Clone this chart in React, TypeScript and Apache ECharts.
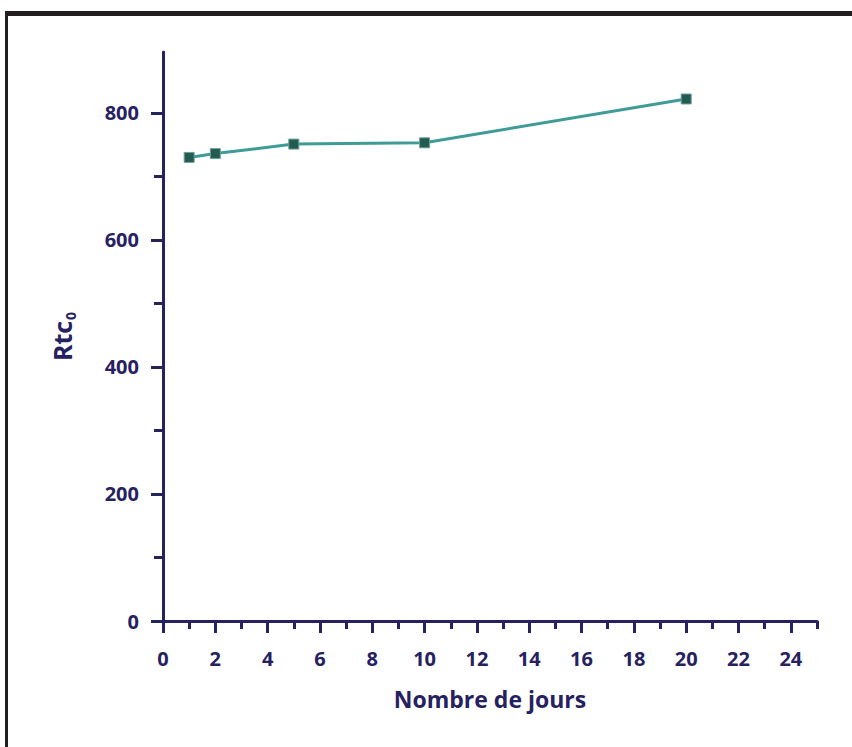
import React, { useEffect, useRef } from "react";
import * as echarts from "echarts";

const days = [1, 2, 5, 10, 20];
const rtc0 = [730, 736, 751, 753, 822];
const xMajorTicks = [0, 2, 4, 6, 8, 10, 12, 14, 16, 18, 20, 22, 24];
const xMinorTicks = [1, 3, 5, 7, 9, 11, 13, 15, 17, 19, 21, 23, 25];
const yMajorTicks = [0, 200, 400, 600, 800];
const yMinorTicks = [100, 300, 500, 700];

const NAVY = "#26215f";
const FONT = "Open Sans";

export default function App() {
  const ref = useRef<HTMLDivElement>(null);
  useEffect(() => {
    document.body.style.margin = "0";
    const chart = echarts.init(ref.current!, null, { renderer: "svg" });
    const axisLine = { show: true, lineStyle: { color: NAVY, width: 3 } };
    const gridRect = { left: 163, top: 52, width: 654, height: 569 };
    chart.setOption({
      animation: false,
      backgroundColor: "#ffffff",
      grid: [
        { ...gridRect, containLabel: false },
        { ...gridRect, containLabel: false },
      ],
      xAxis: [
        {
          type: "value",
          gridIndex: 0,
          min: 0,
          max: 25,
          axisLine,
          axisTick: {
            show: true,
            inside: false,
            length: 12,
            customValues: xMajorTicks,
            lineStyle: { color: NAVY, width: 3 },
          },
          axisLabel: {
            customValues: xMajorTicks,
            margin: 27,
            color: NAVY,
            fontFamily: FONT,
            fontWeight: "bold",
            fontSize: 20,
          },
          splitLine: { show: false },
          name: "Nombre de jours",
          nameLocation: "middle",
          nameGap: 66,
          nameTextStyle: {
            color: NAVY,
            fontFamily: FONT,
            fontWeight: "bold",
            fontSize: 23,
          },
        },
        {
          type: "value",
          gridIndex: 1,
          min: 0,
          max: 25,
          axisLine: { show: false },
          axisTick: {
            show: true,
            length: 8,
            customValues: xMinorTicks,
            lineStyle: { color: NAVY, width: 3 },
          },
          axisLabel: { show: false },
          splitLine: { show: false },
        },
      ],
      yAxis: [
        {
          type: "value",
          gridIndex: 0,
          min: 0,
          max: 896,
          axisLine,
          axisTick: {
            show: true,
            length: 12,
            customValues: yMajorTicks,
            lineStyle: { color: NAVY, width: 3 },
          },
          axisLabel: {
            customValues: yMajorTicks,
            margin: 24,
            color: NAVY,
            fontFamily: FONT,
            fontWeight: "bold",
            fontSize: 20,
          },
          splitLine: { show: false },
          name: "{a|Rtc}{b|0}",
          nameLocation: "middle",
          nameGap: 86,
          nameRotate: 90,
          nameTextStyle: {
            rich: {
              a: {
                color: NAVY,
                fontFamily: FONT,
                fontWeight: "bold",
                fontSize: 25,
                lineHeight: 30,
              },
              b: {
                color: NAVY,
                fontFamily: FONT,
                fontWeight: "bold",
                fontSize: 14,
                lineHeight: 30,
                verticalAlign: "bottom",
                padding: [12, 0, 0, 1],
              },
            },
          },
        },
        {
          type: "value",
          gridIndex: 1,
          min: 0,
          max: 896,
          axisLine: { show: false },
          axisTick: {
            show: true,
            length: 9,
            customValues: yMinorTicks,
            lineStyle: { color: NAVY, width: 3 },
          },
          axisLabel: { show: false },
          splitLine: { show: false },
        },
      ],
      series: [
        {
          type: "line",
          xAxisIndex: 0,
          yAxisIndex: 0,
          data: days.map((d, i) => [d, rtc0[i]]),
          symbol: "rect",
          symbolSize: 10,
          showSymbol: true,
          lineStyle: { color: "#3f9b97", width: 3 },
          itemStyle: { color: "#235b51", borderColor: "#6e9f98", borderWidth: 1 },
          z: 5,
        },
      ],
      graphic: [
        {
          type: "rect",
          shape: { x: 5, y: 11, width: 847, height: 5 },
          style: { fill: "#231f20" },
          silent: true,
        },
        {
          type: "rect",
          shape: { x: 5, y: 11, width: 3, height: 736 },
          style: { fill: "#231f20" },
          silent: true,
        },
      ],
    });
    return () => chart.dispose();
  }, []);
  return <div ref={ref} style={{ width: 852, height: 747 }} />;
}
